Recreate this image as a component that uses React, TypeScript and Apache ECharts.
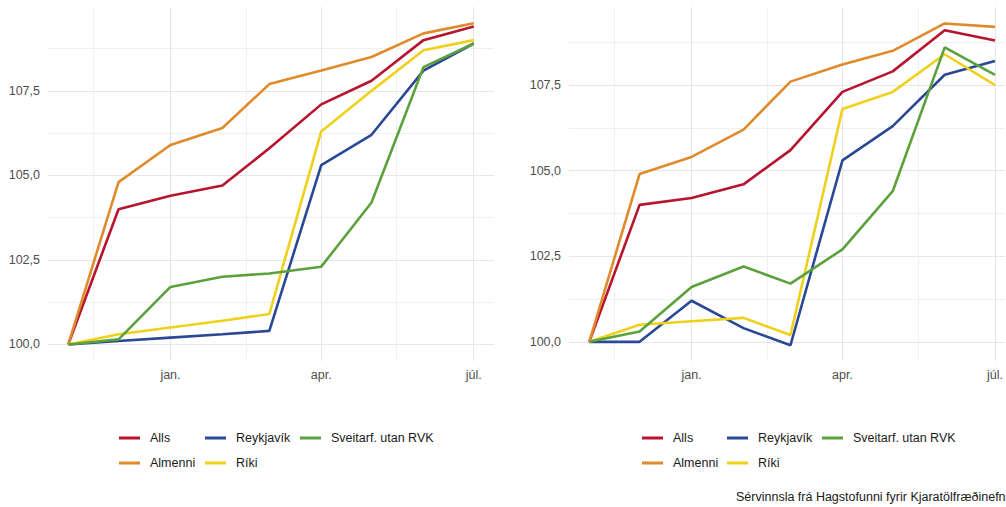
import React, { useEffect, useRef } from "react";
import * as echarts from "echarts";

// ---- data ----
const months = ["2022-11", "2022-12", "2023-01", "2023-02", "2023-03", "2023-04", "2023-05", "2023-06", "2023-07"];
const seriesNames = ["Alls", "Almenni", "Reykjavík", "Ríki", "Sveitarf. utan RVK"];

const leftAlls = [100, 104.0, 104.4, 104.7, 105.8, 107.1, 107.8, 109.0, 109.4];
const leftAlmenni = [100, 104.8, 105.9, 106.4, 107.7, 108.1, 108.5, 109.2, 109.5];
const leftReykjavik = [100, 100.1, 100.2, 100.3, 100.4, 105.3, 106.2, 108.1, 108.9];
const leftRiki = [100, 100.3, 100.5, 100.7, 100.9, 106.3, 107.5, 108.7, 109.0];
const leftSveitarf = [100, 100.15, 101.7, 102.0, 102.1, 102.3, 104.2, 108.2, 108.9];

const rightAlls = [100, 104.0, 104.2, 104.6, 105.6, 107.3, 107.9, 109.1, 108.8];
const rightAlmenni = [100, 104.9, 105.4, 106.2, 107.6, 108.1, 108.5, 109.3, 109.2];
const rightReykjavik = [100, 100.0, 101.2, 100.4, 99.9, 105.3, 106.3, 107.8, 108.2];
const rightRiki = [100, 100.5, 100.6, 100.7, 100.2, 106.8, 107.3, 108.4, 107.5];
const rightSveitarf = [100, 100.3, 101.6, 102.2, 101.7, 102.7, 104.4, 108.6, 107.8];

const xTickDates = ["2023-01-01", "2023-04-01", "2023-07-01"];
const xTickLabels = ["jan.", "apr.", "júl."];
const xMinorDates = ["2022-11-16", "2023-02-15", "2023-05-16"];
const yTicks = [100, 102.5, 105, 107.5];
const yMinorTicks = [101.25, 103.75, 106.25, 108.75];
const caption = "Sérvinnsla frá Hagstofunni fyrir Kjaratölfræðinefnd";

// ---- style ----
const colors = ["#b7142e", "#df8a2b", "#2a4895", "#efd11b", "#5ba13c"];
const FONT = "Arial, 'Liberation Sans', sans-serif";
const DAY = 86400000;

const ts = (s: string) => {
  const p = s.split("-").map(Number);
  return Date.UTC(p[0], p[1] - 1, p[2] || 1);
};

const monthTs = months.map(ts);
const xTickTs = xTickDates.map(ts);
const xMinorTs = xMinorDates.map(ts);

const panels = [
  { values: [leftAlls, leftAlmenni, leftReykjavik, leftRiki, leftSveitarf], yMin: 99.51, yMax: 109.98, left: 48, width: 446, padLeft: 12.1, padRight: 12.1, legendLeft: [119, 205, 300] },
  { values: [rightAlls, rightAlmenni, rightReykjavik, rightRiki, rightSveitarf], yMin: 99.44, yMax: 109.78, left: 569, width: 437, padLeft: 12.1, padRight: 6.0, legendLeft: [642, 727, 822] },
];

export default function App() {
  const ref = useRef<HTMLDivElement>(null);
  useEffect(() => {
    if (!ref.current) return;
    const chart = echarts.init(ref.current, undefined, { renderer: "svg" });

    const grid: any[] = [];
    const xAxis: any[] = [];
    const yAxis: any[] = [];
    const series: any[] = [];
    const legend: any[] = [];

    panels.forEach((p, pi) => {
      const xMin = monthTs[0] - p.padLeft * DAY;
      const xMax = monthTs[monthTs.length - 1] + p.padRight * DAY;
      grid.push({ left: p.left, top: 7, width: p.width, height: 354 });
      xAxis.push({
        type: "value",
        gridIndex: pi,
        min: xMin,
        max: xMax,
        axisLine: { show: false },
        axisTick: { show: false },
        splitLine: { show: false },
        axisLabel: {
          customValues: xTickTs,
          formatter: (v: number) => {
            const i = xTickTs.indexOf(v);
            return i >= 0 ? xTickLabels[i] : "";
          },
          color: "#4d4d4d",
          fontSize: 12.5,
          fontFamily: FONT,
          margin: 7,
          hideOverlap: false,
        },
      });
      yAxis.push({
        type: "value",
        gridIndex: pi,
        min: p.yMin,
        max: p.yMax,
        axisLine: { show: false },
        axisTick: { show: false },
        splitLine: { show: false },
        axisLabel: {
          customValues: yTicks,
          formatter: (v: number) => v.toFixed(1).replace(".", ","),
          color: "#4d4d4d",
          fontSize: 12.5,
          fontFamily: FONT,
          margin: 8,
        },
      });
      // gridlines
      series.push({
        type: "line",
        name: "__grid" + pi,
        xAxisIndex: pi,
        yAxisIndex: pi,
        data: [],
        silent: true,
        z: 0,
        markLine: {
          silent: true,
          z: 1,
          symbol: ["none", "none"],
          label: { show: false },
          emphasis: { disabled: true },
          animation: false,
          data: [
            ...yTicks.map((v) => ({ yAxis: v, lineStyle: { color: "#e6e6e6", width: 1, type: "solid" } })),
            ...yMinorTicks.map((v) => ({ yAxis: v, lineStyle: { color: "#f0f0f0", width: 1, type: "solid" } })),
            ...xTickTs.map((v) => ({ xAxis: v, lineStyle: { color: "#e6e6e6", width: 1, type: "solid" } })),
            ...xMinorTs.map((v) => ({ xAxis: v, lineStyle: { color: "#f0f0f0", width: 1, type: "solid" } })),
          ],
        },
      });
      p.values.forEach((vals, si) => {
        series.push({
          type: "line",
          name: seriesNames[si],
          xAxisIndex: pi,
          yAxisIndex: pi,
          data: monthTs.map((t, i) => [t, vals[i]]),
          showSymbol: false,
          symbol: "none",
          color: colors[si],
          lineStyle: { color: colors[si], width: 2.6 },
          z: 3,
        });
        const col = Math.floor(si / 2);
        const row = si % 2;
        legend.push({
          data: [seriesNames[si]],
          left: p.legendLeft[col],
          top: 430 + row * 25,
          icon: "rect",
          itemWidth: 21,
          itemHeight: 3,
          padding: 0,
          selectedMode: false,
          textStyle: { fontSize: 12.5, fontFamily: FONT, color: "#1a1a1a", padding: [0, 0, 0, 5], lineHeight: 16 },
        });
      });
    });

    chart.setOption({
      animation: false,
      backgroundColor: "#ffffff",
      textStyle: { fontFamily: FONT },
      grid,
      xAxis,
      yAxis,
      series,
      legend,
      graphic: [
        {
          type: "text",
          left: 736,
          top: 490,
          style: { text: caption, fontSize: 12.5, fontFamily: FONT, fill: "#1a1a1a" },
        },
      ],
    });
    return () => chart.dispose();
  }, []);
  return <div ref={ref} style={{ position: "fixed", left: 0, top: 0, width: 1006, height: 507 }} />;
}
